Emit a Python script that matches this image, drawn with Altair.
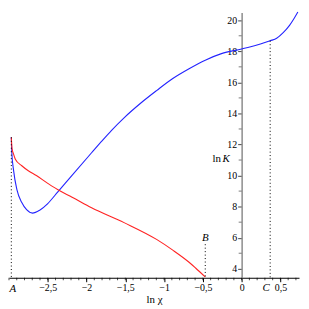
import altair as alt
import pandas as pd

# ---- data ----
blue_x = [-2.97, -2.965, -2.94, -2.898, -2.835, -2.773, -2.697, -2.604, -2.5, -2.37, -2.19,
          -1.935, -1.81, -1.68, -1.516, -1.307, -1.097, -0.888, -0.678, -0.469, -0.26,
          0.0, 0.08, 0.368, 0.452, 0.536, 0.62, 0.68, 0.725]
blue_y = [12.46, 11.6, 10.3, 9.1, 8.26, 7.8, 7.58, 7.77, 8.2, 8.95, 10.0,
          11.47, 12.18, 12.9, 13.72, 14.64, 15.47, 16.25, 16.88, 17.43, 17.85,
          18.15, 18.25, 18.68, 18.84, 19.2, 19.69, 20.15, 20.53]
red_x = [-2.97, -2.961, -2.94, -2.918, -2.835, -2.751, -2.647, -2.5, -2.374, -2.186,
         -1.935, -1.516, -1.097, -0.888, -0.678, -0.594, -0.469]
red_y = [12.46, 11.75, 11.37, 11.05, 10.63, 10.31, 10.0, 9.5, 9.1, 8.61,
         7.93, 6.97, 5.89, 5.2, 4.42, 4.05, 3.47]

marker_names = ["A", "B", "C"]
marker_x = [-2.97, -0.469, 0.368]
marker_top = [12.46, 5.58, 18.68]

xmin, xmax = -3.0, 0.74
ymin, ymax = 3.42, 20.5
W, H = 293, 268

x_major = [-2.5, -2.0, -1.5, -1.0, -0.5, 0.0, 0.5]
x_minor = [round(-3.0 + 0.1 * i, 1) for i in range(38)]
y_major = [4, 6, 8, 10, 12, 14, 16, 18, 20]
y_minor = [5, 7, 9, 11, 13, 15, 17, 19]

curves = pd.DataFrame({
    "lnchi": blue_x + red_x,
    "lnK": blue_y + red_y,
    "curve": ["blue"] * len(blue_x) + ["red"] * len(red_x),
    "order": list(range(len(blue_x))) + list(range(len(red_x))),
})
markers = pd.DataFrame({"name": marker_names, "x": marker_x, "top": marker_top,
                        "bottom": [ymin] * 3})
xminor_df = pd.DataFrame({"x": x_minor, "y": [ymin] * len(x_minor)})
yminor_df = pd.DataFrame({"x": [0.0] * len(y_minor), "y": y_minor})

serif = "Liberation Serif"
xs = alt.Scale(domain=[xmin, xmax], nice=False, zero=False)
ys = alt.Scale(domain=[ymin, ymax], nice=False, zero=False)

x_axis = alt.Axis(
    values=x_major, format=".1~f",
    labelExpr="replace(datum.label, '.', ',')",
    labelOverlap=False, labelFlush=False,
    tickSize=4, grid=False, domainColor="black", tickColor="black",
    labelFont=serif, labelFontSize=10, labelPadding=1, labelColor="black",
    title="ln χ", titleFont=serif, titleFontSize=11, titleFontWeight="normal",
    titlePadding=1, titleColor="black",
)
y_offset = -W * (0 - xmin) / (xmax - xmin)
y_axis = alt.Axis(
    values=y_major, orient="left", offset=y_offset,
    labelOverlap=False, labelFlush=False,
    tickSize=4, grid=False, domainColor="#8c8c8c", domainWidth=1.5, tickColor="#444",
    labelFont=serif, labelFontSize=10, labelPadding=1, labelColor="black", title="",
)


def X(f):
    return alt.X(f, scale=xs, axis=x_axis)


def Y(f):
    return alt.Y(f, scale=ys, axis=y_axis)


lines = alt.Chart(curves).mark_line(strokeWidth=1.1, interpolate="monotone").encode(
    x=X("lnchi:Q"), y=Y("lnK:Q"),
    color=alt.Color("curve:N", scale=alt.Scale(domain=["blue", "red"],
                                               range=["#2323ff", "#ff2323"]), legend=None),
    order="order:Q",
)

xminor = alt.Chart(xminor_df).mark_tick(orient="vertical", size=2.5, thickness=1,
                                         color="black").encode(
    x=X("x:Q"), y=Y("y:Q"), yOffset=alt.value(1.3))
yminor = alt.Chart(yminor_df).mark_tick(orient="horizontal", size=3, thickness=1,
                                         color="#444").encode(
    x=X("x:Q"), y=Y("y:Q"), xOffset=alt.value(-1.5))

dots = alt.Chart(markers).mark_rule(color="black", strokeDash=[1, 2.5], strokeWidth=1).encode(
    x=X("x:Q"), y=Y("top:Q"), y2="bottom:Q")

lab_a = alt.Chart(markers[markers.name == "A"]).mark_text(
    font=serif, fontStyle="italic", fontSize=11, baseline="top", dy=5, dx=1.5, color="black"
).encode(x=X("x:Q"), y=Y("bottom:Q"), text="name:N")
lab_c = alt.Chart(markers[markers.name == "C"]).mark_text(
    font=serif, fontStyle="italic", fontSize=11, baseline="top", dy=4, dx=-4, color="black"
).encode(x=X("x:Q"), y=Y("bottom:Q"), text="name:N")
lab_b = alt.Chart(markers[markers.name == "B"]).mark_text(
    font=serif, fontStyle="italic", fontSize=11, baseline="bottom", dy=-1, color="black"
).encode(x=X("x:Q"), y=Y("top:Q"), text="name:N")

ytitle = pd.DataFrame({"x": [0.0], "y": [11.05]})
t_k = alt.Chart(ytitle).mark_text(font=serif, fontStyle="italic", fontSize=11,
                                  align="right", dx=-12, color="black").encode(
    x=X("x:Q"), y=Y("y:Q"), text=alt.value("K"))
t_ln = alt.Chart(ytitle).mark_text(font=serif, fontSize=11,
                                   align="right", dx=-21, color="black").encode(
    x=X("x:Q"), y=Y("y:Q"), text=alt.value("ln"))

chart = alt.layer(lines, xminor, yminor, dots, lab_a, lab_b, lab_c, t_k, t_ln).properties(
    width=W, height=H, padding=0
).configure_view(stroke=None)

chart.save("out.html", embed_options={"renderer": "svg", "actions": False})
